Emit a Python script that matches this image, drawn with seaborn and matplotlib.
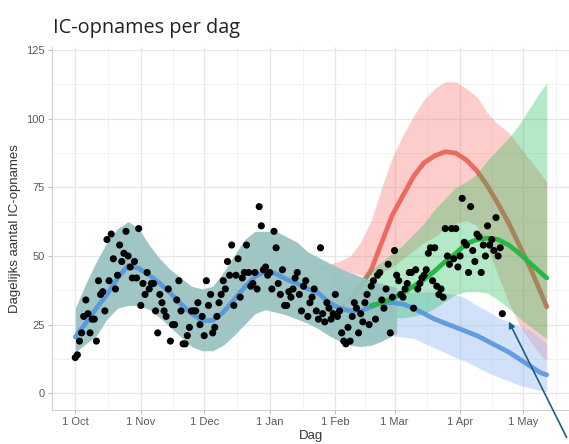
import matplotlib
matplotlib.use("Agg")
import matplotlib.pyplot as plt
import seaborn as sns

# dagelijkse IC-opnames, vanaf 1 oktober (dag 0)
okt = [13, 14, 19, 22, 28, 34, 29, 22, 27, 27,
       19, 41, 36, 37, 30, 56, 41, 58, 49, 38,
       43, 54, 48, 51, 59, 50, 46, 42, 48, 42, 60]
nov = [32, 40, 36, 44, 38, 40, 40, 30, 22, 36,
       33, 30, 28, 38, 19, 25, 25, 34, 41, 30,
       18, 18, 21, 24, 30, 30, 30, 33, 25, 28]
dec = [21, 41, 32, 36, 22, 24, 28, 33, 36, 41,
       38, 48, 43, 54, 32, 43, 49, 35, 42, 44,
       54, 44, 39, 40, 44, 38, 68, 61, 45, 46, 43]
jan = [44, 38, 59, 53, 40, 36, 45, 32, 32, 37,
       35, 38, 42, 44, 36, 30, 39, 41, 28, 33,
       35, 38, 30, 27, 53, 29, 26, 33, 31, 27, 29]
feb = [36, 28, 30, 22, 19, 18, 24, 19, 28, 33,
       31, 22, 29, 26, 33, 36, 25, 39, 41, 27,
       43, 44, 34, 31, 38, 47, 22, 35]
mrt = [52, 43, 41, 36, 35, 38, 40, 44, 44, 31,
       45, 38, 40, 42, 43, 45, 51, 53, 41, 53,
       39, 36, 38, 35, 60, 50, 47, 60, 49, 60, 46]
apr = [50, 71, 55, 54, 44, 68, 52, 48, 58, 57,
       44, 54, 50, 61, 54, 56, 52, 64, 50, 53, 29]
ic_opnames = okt + nov + dec + jan + feb + mrt + apr
dag = list(range(len(ic_opnames)))

# fit (blauw) over hele periode
fit_dag = [0, 5, 10, 15, 20, 25, 30, 35, 40, 45, 50, 55, 60, 65, 70, 75, 80, 85, 90,
           95, 100, 105, 110, 115, 120, 125, 130, 135, 140, 145, 150, 155, 160, 165,
           170, 175, 180, 185, 190, 195, 200, 205, 210, 215, 220, 223]
fit_lijn = [20.5, 25.5, 31, 36, 42, 46.5, 45.5, 43, 40, 36.5, 32.5, 29, 26.5, 26.5, 29.5,
            34, 38.5, 42.5, 44.5, 43.5, 41.5, 40, 38, 36.5, 33, 31, 30, 30, 31.5, 33, 33,
            32.5, 31, 29, 27, 25.5, 24, 22.5, 21, 19, 17, 15, 12.5, 10, 7.5, 6.7]

# onzekerheidsband van de fit
band_dag = [0, 5, 10, 15, 20, 25, 30, 35, 40, 45, 50, 55, 60, 65, 70, 75, 80, 85, 90,
            95, 100, 105, 110, 115, 120, 125, 130, 135, 140, 145, 150, 152]
band_boven = [31, 40, 48, 55, 60, 62.5, 60, 54, 49, 45, 42, 39, 38, 39, 44, 50, 56, 59, 59,
              59, 57, 55, 51.5, 49.5, 47.5, 45.5, 44, 42.5, 41, 40, 39, 38.5]
band_onder = [15, 18, 21, 27, 31, 32, 32, 30.5, 27.5, 24, 20.5, 17, 15.5, 15.5, 17.5, 21, 25,
              29, 30.5, 29.5, 28.5, 27, 25.5, 23.5, 21, 19, 17.5, 17, 17.5, 19, 21, 22]

# scenario blauw
blauw_dag = [120, 130, 140, 150, 160, 170, 180, 185, 190, 195, 200, 205, 210, 215, 220, 223]
blauw_boven = [45, 42, 40, 37.5, 37, 37, 36, 34.5, 32, 30, 27.5, 26, 24.5, 23, 20, 18]
blauw_onder = [21, 19, 19.5, 21, 20, 16.5, 13, 11.5, 9.5, 7.5, 6, 4.5, 3, 2, 1, 0.5]

# scenario rood
rood_dag = [115, 120, 125, 130, 135, 140, 145, 150, 155, 160, 165, 170, 175, 180, 185,
            190, 195, 200, 205, 210, 215, 220, 223]
rood_boven = [46, 47, 48, 50, 55, 63, 75, 86, 94, 101, 107, 111, 113.5, 113.5, 111, 108,
              102, 98, 95, 90, 85, 80, 77]
rood_onder = [45, 45, 45, 44, 43, 43, 44, 46, 49, 52, 55, 57, 60, 62, 63, 61, 53, 43, 33,
              25, 19, 14, 12]
rood_lijn_dag = [125, 130, 135, 140, 145, 150, 155, 160, 165, 170, 175, 180, 185, 190,
                 195, 200, 205, 210, 215, 220, 223]
rood_lijn = [31, 34, 39, 45, 55, 65, 72, 79, 84, 86.5, 88, 87.5, 85, 81, 75.5, 69, 62, 54,
             46, 37, 31.5]

# scenario groen
groen_dag = [135, 140, 145, 150, 155, 160, 165, 170, 175, 180, 185, 190, 195, 200, 205,
             210, 215, 220, 223]
groen_boven = [42, 45, 48, 51, 54, 58, 62, 67, 71, 75, 77, 80, 85, 89, 93, 98, 104, 110, 113]
groen_onder = [24, 26, 27, 27.5, 27.5, 28, 29, 31, 33.5, 36, 37, 37, 36.5, 34, 31, 27.5,
               24.5, 21.5, 20]
groen_lijn_dag = [140, 145, 150, 155, 160, 165, 170, 175, 180, 185, 190, 195, 200, 205,
                  210, 215, 220, 223]
groen_lijn = [32, 33, 34.5, 36.5, 39, 41.5, 44.5, 48, 51, 54.5, 56, 56.5, 56, 54, 51, 47.5,
              44, 42]

maand_dag = [0, 31, 61, 92, 123, 151, 182, 212]
maand_labels = ["1 Oct", "1 Nov", "1 Dec", "1 Jan", "1 Feb", "1 Mar", "1 Apr", "1 May"]
tussen_dag = [15.5, 46, 76.5, 107.5, 137, 166.5, 197, 227.5]
y_ticks = [0, 25, 50, 75, 100, 125]
y_tussen = [12.5, 37.5, 62.5, 87.5, 112.5]

sns.set_theme(style="white")
plt.rcParams["font.family"] = ["Liberation Sans", "DejaVu Sans"]

fig = plt.figure(figsize=(5.69, 4.44), dpi=100)
ax = fig.add_axes([52 / 569, 34 / 444, 518 / 569, 0.8166])

# raster
for x in maand_dag:
    ax.axvline(x, color="#E6E6E6", lw=0.9, zorder=0)
for x in tussen_dag:
    ax.axvline(x, color="#F0F0F0", lw=0.6, zorder=0)
for y in y_ticks:
    ax.axhline(y, color="#E6E6E6", lw=0.9, zorder=0)
for y in y_tussen:
    ax.axhline(y, color="#F0F0F0", lw=0.6, zorder=0)

# banden en lijnen
ax.fill_between(rood_dag, rood_onder, rood_boven, color="#F8766D", alpha=0.36, lw=0, zorder=1)
sns.lineplot(x=rood_lijn_dag, y=rood_lijn, ax=ax, color="#EE6A5F", linewidth=3.4, zorder=2)
ax.fill_between(blauw_dag, blauw_onder, blauw_boven, color="#9BBEF5", alpha=0.45, lw=0, zorder=3)
ax.fill_between(groen_dag, groen_onder, groen_boven, color="#19BE52", alpha=0.33, lw=0, zorder=4)
ax.fill_between(band_dag, band_onder, band_boven, color="#97C2C0", alpha=0.92, lw=0, zorder=5)
sns.lineplot(x=fit_dag, y=fit_lijn, ax=ax, color="#4F92DE", linewidth=3.4, alpha=0.85, zorder=6)
sns.lineplot(x=groen_lijn_dag, y=groen_lijn, ax=ax, color="#27B844", linewidth=3.4, zorder=7)

sns.scatterplot(x=dag, y=ic_opnames, ax=ax, color="black", s=26, edgecolor="none", zorder=8)

# pijl naar laatste punt
ax.annotate("", xy=(dag[-1] + 2.5, ic_opnames[-1] - 2), xytext=(233, -17),
            arrowprops=dict(arrowstyle="-|>", color="#1E5F80", lw=1.2, mutation_scale=9),
            annotation_clip=False, zorder=9)

ax.set_xlim(-11, 234)
ax.set_ylim(-6.1, 126)
ax.set_xticks(maand_dag)
ax.set_xticklabels(maand_labels)
ax.set_yticks(y_ticks)
ax.tick_params(axis="both", labelsize=8, labelcolor="#5A5A5A", color="#BBBBBB",
               length=3, width=0.7, pad=2, bottom=True, left=True)
for kant in ["top", "right"]:
    ax.spines[kant].set_visible(False)
for kant in ["left", "bottom"]:
    ax.spines[kant].set_color("#CCCCCC")
    ax.spines[kant].set_linewidth(0.7)

ax.set_xlabel("Dag", fontsize=9.5, color="#333333", labelpad=2)
ax.set_ylabel("Dagelijks aantal IC-opnames", fontsize=9.5, color="#333333", labelpad=4)

fig.text(53 / 569, 1 - 33 / 444, "IC-opnames per dag", fontsize=14.3, color="#222222",
         family="Open Sans", va="baseline", ha="left")

fig.savefig("out.png", dpi=100)
